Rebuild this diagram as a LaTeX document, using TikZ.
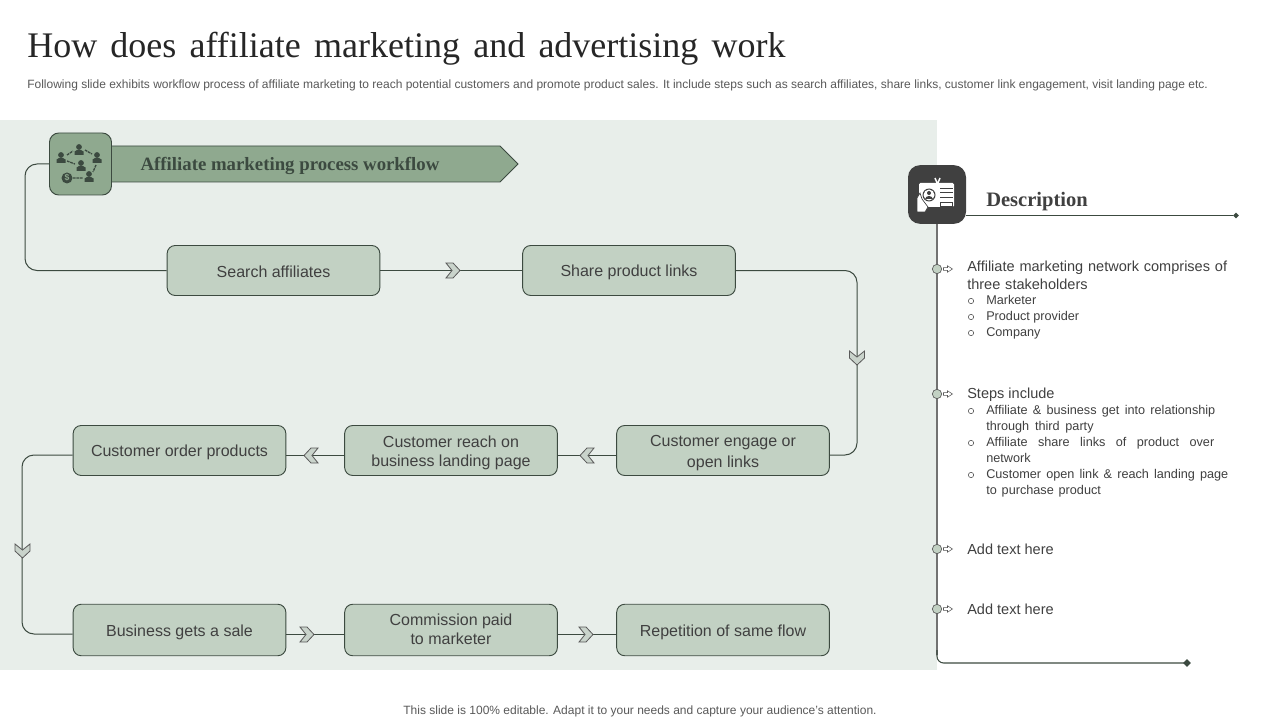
\documentclass[tikz,border=0pt]{standalone}
\usepackage{fontspec}
\setmainfont{Liberation Sans}
\newfontfamily\serifb{Liberation Serif}
\usetikzlibrary{calc,shapes.geometric}
\definecolor{panel}{HTML}{E8EEEA}
\definecolor{boxf}{HTML}{C2D1C3}
\definecolor{boxd}{HTML}{3C4A40}
\definecolor{banner}{HTML}{8FA98F}
\definecolor{ink}{HTML}{404040}
\definecolor{graytxt}{HTML}{595959}
\definecolor{chev}{HTML}{C9D3CB}
\tikzset{
 x=0.75pt,y=-0.75pt,
 flow/.style={draw=boxd,line width=0.7pt,fill=boxf,rounded corners=6pt,minimum width=159.5pt,minimum height=37.5pt,inner sep=0pt,align=center,text=ink,font=\fontsize{12}{14.2}\selectfont},
 flowlow/.style={flow,minimum height=38.6pt},
 link/.style={draw=boxd,line width=0.75pt,rounded corners=9pt},
 plain/.style={draw=boxd,line width=0.75pt},
 bull/.style={circle,draw=graytxt,fill=boxf,line width=0.5pt,minimum size=7pt,inner sep=0pt},
 body/.style={anchor=north west,inner sep=0pt,text=ink,align=left,font=\fontsize{10.9}{13.5}\selectfont},
 sub/.style={anchor=north west,inner sep=0pt,text=ink,align=left,font=\fontsize{9.5}{12}\selectfont},
 oo/.style={circle,draw=ink,line width=0.4pt,minimum size=4pt,inner sep=0pt},
 tip/.style={diamond,fill=boxd,inner sep=0pt,minimum size=4.5pt},
 person/.pic={\fill[boxd] (0,-3) circle (2.9);\fill[boxd] (-4.5,5) -- (-4.5,1.5) to[bend left=40] (4.5,1.5) -- (4.5,5) -- cycle;},
}
\newcommand{\fs}{\rule[-2pt]{0pt}{14.2pt}}
\newcommand{\fc}{\rule[-3.5pt]{0pt}{14.2pt}}
\newcommand{\chevron}[2]{\begin{scope}[shift={(#1)},rotate=#2]
\filldraw[draw=graytxt,fill=chev,line width=0.6pt] (-7,-7.5) -- (0,-7.5) -- (7,0) -- (0,7.5) -- (-7,7.5) -- (-1,0) -- cycle;
\end{scope}}
\newcommand{\hollowarrow}[1]{\begin{scope}[shift={(#1)}]
\draw[graytxt,line width=0.4pt,fill=white] (0,-1.3) -- (4,-1.3) -- (4,-3.2) -- (9,0) -- (4,3.2) -- (4,1.3) -- (0,1.3) -- cycle;
\end{scope}}
\newcommand{\just}[2]{\makebox[#1][s]{#2}}
\begin{document}
\begin{tikzpicture}
\useasboundingbox (0,0) rectangle (1280,720);
\fill[white] (0,0) rectangle (1280,720);
\fill[panel] (0,120) rectangle (937,670);

\node[anchor=west,inner sep=0pt,text=black!85,font=\serifb\fontsize{27}{30}\selectfont] (title) at (27,49) {\spaceskip=9.9pt How does affiliate marketing and advertising work};
\node[anchor=west,inner sep=0pt,text=graytxt,font=\fontsize{9}{11}\selectfont] (subt) at (27,85.5) {Following slide exhibits workflow process of affiliate marketing to reach potential customers and promote product sales. It include steps such as search affiliates, share links, customer link engagement, visit landing page etc.};
\node[anchor=center,inner sep=0pt,text=graytxt,font=\fontsize{9}{11}\selectfont] (foot) at (640,711.5) {This slide is 100\% editable. Adapt it to your needs and capture your audience’s attention.};

\filldraw[draw=boxd,fill=banner,line width=0.7pt] (105,146) -- (500,146) -- (518,164) -- (500,182) -- (105,182) -- cycle;
\node[anchor=center,inner sep=0pt,text=boxd,font=\serifb\bfseries\fontsize{14.1}{16}\selectfont] (bantext) at (290,166) {Affiliate marketing process workflow};

\node[flow] (search) at (273.5,270.5) {\fs Search affiliates};
\node[flow] (share) at (629,270.5) {\fs Share product links};
\node[flow] (engage) at (723,450.5) {\fs Customer engage or\\\fs open links};
\node[flow] (reach) at (451,450.5) {\fs Customer reach on\\\fs business landing page};
\node[flow] (order) at (179.5,450.5) {\fs Customer order products};
\node[flowlow] (sale) at (179.5,630) {\fs Business gets a sale};
\node[flowlow] (comm) at (451,630) {\fc Commission paid\\\fc to marketer};
\node[flowlow] (rep) at (723,630) {\fs Repetition of same flow};

\node[draw=boxd,fill=banner,line width=0.7pt,rounded corners=7pt,minimum size=46.5pt,inner sep=0pt] (wficon) at (80.5,164) {};

\coordinate (c1) at (25,164); \coordinate (c2) at (25,270.5);
\draw[link] (wficon.west) -- (c1) -- (c2) -- (search.west);
\coordinate (c3) at (857,270.5); \coordinate (c4) at (857,455);
\draw[link] (share.east) -- (c3) -- (c4) -- (engage.east |- c4);
\coordinate (c5) at (22,455); \coordinate (c6) at (22,634);
\draw[link] (order.west |- c5) -- (c5) -- (c6) -- (sale.west |- c6);
\draw[plain] (search.east) -- (share.west);
\draw[plain] (engage.west |- 0,455) -- (reach.east |- 0,455);
\draw[plain] (reach.west |- 0,455) -- (order.east |- 0,455);
\draw[plain] (sale.east |- 0,634) -- (comm.west |- 0,634);
\draw[plain] (comm.east |- 0,634) -- (rep.west |- 0,634);
\chevron{453,270.5}{0}
\chevron{857,358}{-90}
\chevron{587,455.5}{180}
\chevron{311,455.5}{180}
\chevron{22.5,551}{-90}
\chevron{307,634.5}{0}
\chevron{586,634.5}{0}

\begin{scope}[shift={(80,164)}]
\path (-19,-6) pic {person} (-1,-14) pic {person} (17,-6) pic {person} (1,2) pic {person} (9,13) pic {person};
\draw[boxd,line width=1pt,dash pattern=on 2pt off 0.6pt] (-13,-9)--(-7,-13) (5,-14)--(12,-10) (-13,-3)--(-5,0) (16,1)--(13,8) (-7,14)--(3,14);
\fill[boxd] (-13,14) circle (5.5);
\node[text=banner,inner sep=0pt,font=\bfseries\fontsize{6.5}{6.5}\selectfont] (dollar) at (-13,14) {\$};
\end{scope}

\draw[line width=0.9pt,draw=graytxt!85] (937,224) -- (937,655);
\coordinate (bl) at (937,663);
\draw[draw=boxd,line width=0.8pt,rounded corners=5pt] (937,650) -- (bl) -- (1187,663);
\node[tip,minimum size=6pt] (t2) at (1187,663) {};
\node[tip] (t1) at (1236,215.5) {};
\node[draw=none,fill=ink,rounded corners=9pt,minimum width=43.5pt,minimum height=44pt,inner sep=0pt] (dicon) at (937,194.5) {};
\draw[boxd,line width=0.8pt] (dicon.east |- t1) -- (t1);
\node[anchor=west,inner sep=0pt,text=ink,font=\serifb\bfseries\fontsize{15.4}{17}\selectfont] (dtitle) at (986,201.5) {Description};

\begin{scope}[shift={(937,194)}]
\fill[white,rounded corners=1pt] (-18,-11) rectangle (17,13);
\draw[white,line width=1.1pt] (-2,-16) -- (0.5,-10) -- (3,-16);
\fill[ink] (-8,1) circle (6.5);
\fill[white] (-8,1) circle (5.5);
\fill[ink] (-8,-1) circle (2);
\fill[ink] (-12,5) .. controls (-11,1) and (-5,1) .. (-4,5) -- cycle;
\draw[ink,line width=0.6pt] (3,-6)--(16,-6) (3,-2)--(16,-2) (3,3)--(16,3);
\draw[ink,line width=0.5pt] (3,8) rectangle (15,12);
\fill[white,draw=ink,line width=0.5pt] (-20,18) -- (-20,4) -- (-17,-1) -- (-15,5) -- (-9,13) -- (-12,18) -- cycle;
\end{scope}

\foreach \nm/\yy in {b1/269,b2/394,b3/549,b4/609}{
 \hollowarrow{943.5,\yy}
 \node[bull] (\nm) at (937,\yy) {};
}
\node[body,text width=200pt] (t1a) at (967,261) {Affiliate marketing network comprises of three stakeholders};
\node[sub] (s1) at (986,295.5) {Marketer};
\node[sub] (s2) at (986,311.5) {Product provider};
\node[sub] (s3) at (986,327.5) {Company};
\node[oo] (o1) at (971,301) {};
\node[oo] (o2) at (971,317) {};
\node[oo] (o3) at (971,333) {};
\node[body] (t2a) at (967,388) {Steps include};
\node[sub] (s4) at (986,405.5) {\just{171.75pt}{Affiliate \& business get into relationship}\\\just{80.5pt}{through third party}};
\node[sub] (s5) at (986,437.5) {\just{171pt}{Affiliate share links of product over}\\network};
\node[sub] (s6) at (986,469.5) {\just{181.5pt}{Customer open link \& reach landing page}\\\just{86pt}{to purchase product}};
\node[oo] (o4) at (971,411) {};
\node[oo] (o5) at (971,443) {};
\node[oo] (o6) at (971,475) {};
\node[body] (t3a) at (967,544) {Add text here};
\node[body] (t4a) at (967,604) {Add text here};
\end{tikzpicture}
\end{document}
